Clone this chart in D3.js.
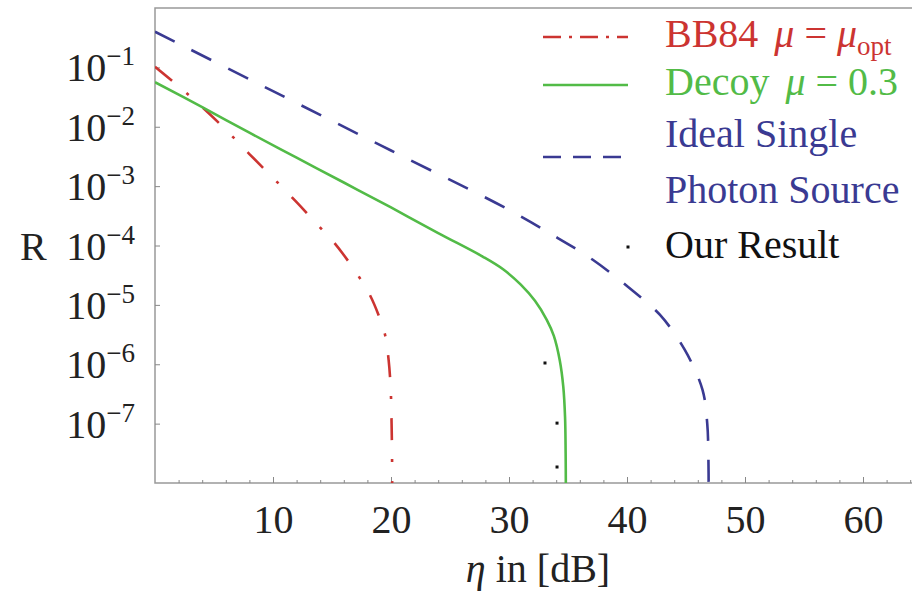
<!DOCTYPE html>
<html>
<head>
<meta charset="utf-8">
<script src="https://cdn.jsdelivr.net/npm/d3@7"></script>
<style>
  body { margin: 0; background: #fff; }
  svg { display: block; }
  text { font-family: "Liberation Serif", "Times New Roman", serif; }
</style>
</head>
<body>
<svg width="912" height="592"></svg>
<script>
// transmission loss in dB and key rate R
var bb84Eta = [0, 2, 4, 6, 8, 10, 12, 14, 15, 16, 17.2, 18.2, 19, 19.5, 19.8, 19.97, 20.05, 20.09, 20.1];
var bb84R   = [1.02e-1, 4.79e-2, 2.14e-2, 8.91e-3, 3.47e-3, 1.38e-3, 5.37e-4, 2.0e-4, 1.23e-4, 6.9e-5,
               3.16e-5, 1.48e-5, 6.3e-6, 3.1e-6, 1.17e-6, 4.0e-7, 1.0e-7, 2.5e-8, 6.3e-9];

var decoyEta = [0, 4, 8, 12, 16, 20, 24, 27.8, 29.5, 31, 32.2, 33.2, 33.8, 34.3, 34.6, 34.75, 34.8, 34.82];
var decoyR   = [5.62e-2, 2.14e-2, 7.94e-3, 3.02e-3, 1.15e-3, 4.37e-4, 1.62e-4, 6.46e-5, 3.98e-5, 2.19e-5,
                1.17e-5, 5.6e-6, 3.0e-6, 1.17e-6, 4.2e-7, 1.29e-7, 3.2e-8, 6.3e-9];

var idealEta = [0, 10, 20, 30, 34.1, 37.1, 40.1, 42.8, 44.9, 46.4, 46.8, 46.9, 46.92];
var idealR   = [3.98e-1, 3.98e-2, 3.98e-3, 3.98e-4, 1.35e-4, 5.75e-5, 2.0e-5, 6.76e-6, 1.74e-6, 3.7e-7,
                1.0e-7, 2.5e-8, 6.3e-9];

var oursEta = [33.05, 34.07, 34.07];
var oursR   = [1.05e-6, 1.02e-7, 1.86e-8];

var xMajor = [10, 20, 30, 40, 50, 60];
var xMinor = d3.range(2, 65, 2);
var yTicks = [1e-1, 1e-2, 1e-3, 1e-4, 1e-5, 1e-6, 1e-7];
var yExp   = ["\u22121", "\u22122", "\u22123", "\u22124", "\u22125", "\u22126", "\u22127"];

var red = "#cc3431", green = "#52bb47", blue = "#3a3a92";
var fs = "40px";

var svg = d3.select("svg"),
    margin = {top: 8, left: 155},
    width = 767,
    height = 475,
    g = svg.append("g")
    .attr("transform", "translate(" + margin.left + "," + margin.top + ")");

var x = d3.scaleLinear().domain([0, 65]).range([0, width]);
var y = d3.scaleLog().domain([1e-8, 1]).range([height, 0]);

// frame
g.append("rect")
    .attr("width", width)
    .attr("height", height)
    .style("fill", "none")
    .style("stroke", "#999")
    .style("stroke-width", 1.5);

// x axis ticks, inward
var xa = g.append("g")
    .attr("transform", "translate(0," + height + ")")
    .call(d3.axisBottom(x).tickValues(xMinor).tickSize(-3).tickFormat(""));
xa.append("g")
    .call(d3.axisBottom(x).tickValues(xMajor).tickSize(-6).tickFormat(d3.format("d")));
xa.selectAll(".domain").remove();
xa.selectAll("line").style("stroke", "#888");
xa.selectAll("text")
    .attr("y", 50)
    .attr("dy", 0)
    .style("font-size", fs)
    .style("font-family", "Liberation Serif")
    .style("fill", "#222");

// y axis ticks, inward, labels 10^k
var ya = g.append("g")
    .call(d3.axisLeft(y).tickValues(yTicks).tickSize(-5).tickFormat(""));
ya.selectAll(".domain").remove();
ya.selectAll("line").style("stroke", "#888");

var ylab = g.selectAll(".ylab")
    .data(yTicks)
    .enter()
    .append("text")
    .attr("class", "ylab")
    .attr("x", -20)
    .attr("y", function(d) { return y(d) + 14; })
    .attr("text-anchor", "end")
    .style("fill", "#222");
ylab.append("tspan").style("font-size", fs).text("10");
ylab.append("tspan").attr("dy", -16).style("font-size", "27px")
    .text(function(d, i) { return yExp[i]; });

svg.append("text")
    .attr("x", 20).attr("y", 260)
    .style("font-size", fs).style("fill", "#222")
    .text("R");

var xt = svg.append("text")
    .attr("x", 538).attr("y", 582)
    .attr("text-anchor", "middle")
    .style("font-size", fs).style("fill", "#222");
xt.append("tspan").style("font-style", "italic").text("\u03b7");
xt.append("tspan").text(" in [dB]");

// curves
g.append("defs").append("clipPath")
    .attr("id", "clip")
    .append("rect")
    .attr("width", width)
    .attr("height", height);

var line = d3.line()
    .curve(d3.curveCatmullRom.alpha(0.5))
    .x(function(d) { return x(d[0]); })
    .y(function(d) { return y(d[1]); });

var series = [
  {eta: idealEta, r: idealR, color: blue, dash: "22,19"},
  {eta: bb84Eta, r: bb84R, color: red, dash: "22,19,3,19"},
  {eta: decoyEta, r: decoyR, color: green, dash: null}
];

var cg = g.append("g").attr("clip-path", "url(#clip)");
cg.selectAll(".line")
    .data(series)
    .enter()
    .append("path")
    .attr("class", "line")
    .attr("d", function(s) { return line(d3.zip(s.eta, s.r)); })
    .style("fill", "none")
    .style("stroke", function(s) { return s.color; })
    .style("stroke-width", 2.6)
    .style("stroke-dasharray", function(s) { return s.dash; });

cg.selectAll(".ours")
    .data(d3.zip(oursEta, oursR))
    .enter()
    .append("rect")
    .attr("class", "ours")
    .attr("x", function(d) { return x(d[0]) - 1.5; })
    .attr("y", function(d) { return y(d[1]) - 1.5; })
    .attr("width", 3)
    .attr("height", 3)
    .style("fill", "#111");

// legend
var lg = svg.append("g");
var lx0 = 543, lx1 = 628;

lg.append("line").attr("x1", lx0).attr("x2", lx1).attr("y1", 37).attr("y2", 37)
    .style("stroke", red).style("stroke-width", 2.6).style("stroke-dasharray", "18,8,3,8");
lg.append("line").attr("x1", lx0).attr("x2", lx1).attr("y1", 85).attr("y2", 85)
    .style("stroke", green).style("stroke-width", 2.6);
lg.append("line").attr("x1", lx0).attr("x2", lx1).attr("y1", 157).attr("y2", 157)
    .style("stroke", blue).style("stroke-width", 2.6).style("stroke-dasharray", "18,12");
lg.append("rect").attr("x", lx1 - 1.5).attr("y", 245.5).attr("width", 3).attr("height", 3)
    .style("fill", "#111");

var t1 = lg.append("text").attr("x", 665).attr("y", 47)
    .style("font-size", fs).style("fill", red);
t1.append("tspan").text("BB84");
t1.append("tspan").attr("dx", 16).style("font-style", "italic").text("\u03bc");
t1.append("tspan").text(" = ");
t1.append("tspan").style("font-style", "italic").text("\u03bc");
t1.append("tspan").attr("dy", 8).style("font-size", "27px").text("opt");

var t2 = lg.append("text").attr("x", 665).attr("y", 95)
    .style("font-size", fs).style("fill", green);
t2.append("tspan").text("Decoy");
t2.append("tspan").attr("dx", 16).style("font-style", "italic").text("\u03bc");
t2.append("tspan").text(" = 0.3");

lg.append("text").attr("x", 665).attr("y", 147)
    .style("font-size", fs).style("fill", blue).text("Ideal Single");
lg.append("text").attr("x", 665).attr("y", 203)
    .style("font-size", fs).style("fill", blue).text("Photon Source");
lg.append("text").attr("x", 665).attr("y", 258)
    .style("font-size", fs).style("fill", "#111").text("Our Result");
</script>
</body>
</html>
